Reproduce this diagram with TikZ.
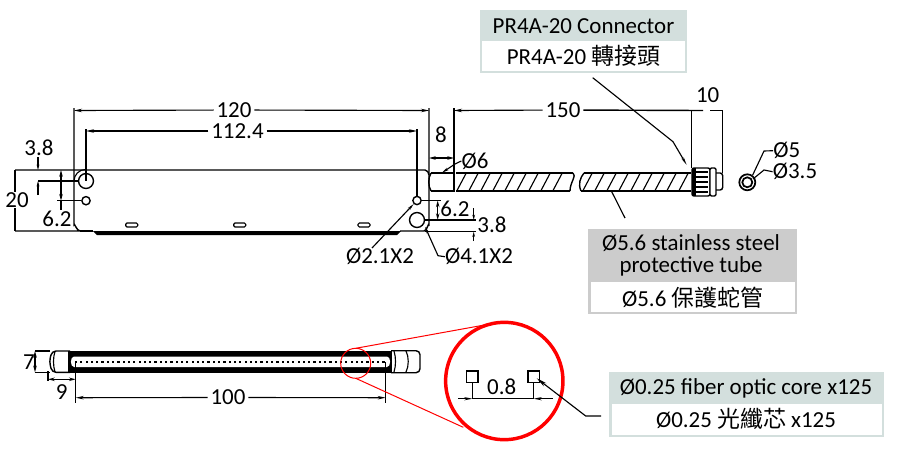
\documentclass[tikz,border=0pt]{standalone}
\usepackage{fontspec}
\setmainfont{Carlito}
\newfontfamily\cjk{Noto Sans CJK TC}
\usetikzlibrary{arrows.meta}
\tikzset{
	dimtip/.style={-{Stealth[length=6pt,width=2.6pt]}},
	dimtips/.style={{Stealth[length=5pt,width=2.6pt]}-{Stealth[length=5pt,width=2.6pt]}},
	outline/.style={line width=1.05pt},
	thinline/.style={line width=0.85pt},
	lab/.style={font=\fontsize{17.2}{17.2}\selectfont, inner sep=0pt},
	dimlab/.style={lab, fill=white, inner xsep=2pt},
	boxtext/.style={font=\fontsize{17.2}{17.2}\selectfont, inner sep=0pt},
	redline/.style={red, line width=0.75pt}
}
\definecolor{headgreen}{HTML}{D3DFDD}
\definecolor{headgrey}{HTML}{CCCCCC}
\begin{document}
\begin{tikzpicture}[x=0.75pt, y=-0.75pt]
	\useasboundingbox (0,0) rectangle (906,471);
	\draw[outline] (15,170) -- (425,170) to[out=0, in=100] (429,175);
	\draw[outline] (15,231) -- (80,231) to[out=180, in=90] (74,225) -- (74,108);
	\draw[outline] (429,108) -- (429,225) to[out=100, in=0] (424,231) -- (400,231);
	\draw[thinline] (74,181) arc (180:270:11.5);
	\fill (93,231) -- (401,231) -- (397,235) -- (97,235) -- cycle;
	\draw[outline] (80,231) -- (93,231);
	\node[circle, draw, outline, minimum size=11.2pt, inner sep=0pt] (1) at (86,181) {};
	\node[circle, draw, outline, minimum size=6.2pt, inner sep=0pt] (2) at (86,200.7) {};
	\node[circle, draw, outline, minimum size=6.2pt, inner sep=0pt] (3) at (417,200.5) {};
	\node[circle, draw, outline, minimum size=11.2pt, inner sep=0pt] (4) at (417,220) {};
	\foreach \x in {131.7,239.7,364} {
		\draw[thinline, rounded corners=1pt] (\x-6,223) rectangle (\x+6,227);
	}
	\node[dimlab] (5) at (234,110) {120};
	\node[dimlab] (6) at (237.5,131) {112.4};
	\draw[thinline, dimtip] (5) -- (74,110.5);
	\draw[thinline, dimtip] (5) -- (429,110.5);
	\draw[thinline, dimtip] (6) -- (86,131);
	\draw[thinline, dimtip] (6) -- (417,131);
	\draw[outline] (86,129) -- (1.center);
	\draw[outline] (417,129) -- (3);
	\node[lab] (7) at (39,148) {3.8};
	\draw[thinline] (15,170) -- (15,231);
	\node[lab, fill=white] (8) at (17,200) {20};
	\node[lab] (9) at (57,219) {6.2};
	\draw[thinline] (38,181) -- (1);
	\draw[thinline] (57,200.7) -- (2);
	\draw[thinline, -{Stealth[length=4pt,width=2pt]}] (38,157) -- (38,170);
	\draw[thinline, -{Stealth[length=4pt,width=2pt]}] (38,195) -- (38,181);
	\draw[thinline, dimtips] (61,170) -- (61,200.7);
	\draw[thinline] (61,200.7) -- (61,210);
	\node[lab] (10) at (441,135) {8};
	\draw[thinline, dimtips] (429,158) -- (454,158);
	\draw[outline] (454,108) -- (454,173);
	\node[lab] (11) at (475,161) {Ø6};
	\coordinate (12) at (455,164);
	\draw[thinline, -{Stealth[length=5pt,width=2pt]}] (11.west) -- (12) -- (442,172.7);
	\draw[outline] (431,173) -- (454,173) -- (454,191) -- (431,191);
	\draw[outline] (431,173) .. controls (428,178) and (428,186) .. (431,191);
	\draw[outline] (456,173) -- (573,173);
	\draw[outline] (456,191) -- (570,191);
	\draw[outline] (573,173) .. controls (577,176) and (570,182) .. (570,191);
	\draw[outline] (584,173) -- (691,173);
	\draw[outline] (581,191) -- (691,191);
	\draw[outline] (584,173) .. controls (580,178) and (578,184) .. (581,191);
	\foreach \x in {457,469,...,563} {
		\draw[thinline] (\x,190.5) -- (\x+9,173.5);
	}
	\foreach \x in {583,595,...,682} {
		\draw[thinline] (\x,190.5) -- (\x+9,173.5);
	}
	\node[lab] (13) at (455,209) {6.2};
	\node[lab] (14) at (492,225) {3.8};
	\draw[thinline] (3) -- (441,200.5);
	\draw[thinline, dimtips] (437.7,200.5) -- (437.7,220);
	\draw[thinline] (425,220) -- (476,220);
	\draw[thinline] (425,231.7) -- (476,231.7);
	\draw[thinline, -{Stealth[length=4pt,width=2pt]}] (473.7,208) -- (473.7,220);
	\draw[thinline, -{Stealth[length=4pt,width=2pt]}] (473.7,241) -- (473.7,231.7);
	\node[lab] (15) at (380,256.7) {Ø2.1X2};
	\node[lab] (16) at (479,256.7) {Ø4.1X2};
	\draw[thinline, {Stealth[length=5pt,width=2pt]}-] (3) -- (372,248);
	\draw[thinline, {Stealth[length=5pt,width=2pt]}-] (425,226.7) -- (438,255.7) -- (16.west);
	\node[dimlab] (17) at (563,110) {150};
	\draw[thinline, dimtip] (17) -- (454,110.5);
	\draw[outline] (17) -- (703,110.5);
	\draw[outline] (710,110.5) -- (722.7,110.5) -- (722.7,173);
	\draw[outline] (691.7,110.5) -- (691.7,168);
	\node[lab] (18) at (707.7,95) {10};
	\filldraw[fill=white, outline, rounded corners=1.5pt] (692,168) rectangle (710,196);
	\fill (692,168) rectangle (696,196);
	\foreach \y in {172,177,182,187,192} {
		\draw[line width=1.2pt] (696,\y) -- (708,\y);
	}
	\filldraw[fill=white, outline, rounded corners=1pt] (710,168) rectangle (716,196);
	\draw[outline, rounded corners=2pt] (716,173) -- (722.7,173) -- (722.7,190) -- (716,190);
	\node[circle, draw, line width=1.3pt, minimum size=12pt, inner sep=0pt] (19) at (747.3,182.3) {};
	\node[circle, draw, line width=1.3pt, minimum size=7.5pt, inner sep=0pt] (20) at (747.3,182.3) {};
	\node[lab] (21) at (786.7,150.7) {Ø5};
	\node[lab] (22) at (795,171.7) {Ø3.5};
	\draw[thinline] (21.west) -- (764,151) -- (752.7,175);
	\draw[thinline] (22.west) -- (764,170) -- (753,179);
	% header boxes
	\fill[headgreen] (480,10) rectangle (687.3,73);
	\fill[white] (482,41) rectangle (685,71);
	\node[boxtext] (23) at (583.5,26.5) {PR4A-20 Connector};
	\node[boxtext] (24) at (583.5,56) {PR4A-20 {\cjk 轉接頭}};
	\coordinate (25) at (673,141.7);
	\draw[thinline, -{Stealth[length=6pt,width=2pt]}] (592.7,77.7) -- (25) -- (686.7,165);
	\fill[headgrey] (588,229) rectangle (796.7,314);
	\fill[white] (590.5,282) rectangle (795,312);
	\node[boxtext, align=center] (26) at (691,255.5) {Ø5.6 stainless steel\\[-0.6pt]protective tube};
	\node[boxtext] (28) at (692.7,297.7) {Ø5.6 {\cjk 保護蛇管}};
	\draw[thinline] (611.7,191.7) -- (625,218);
	\fill[headgreen] (609.3,371.7) rectangle (884,436.7);
	\fill[white] (611.5,404) rectangle (882,434.5);
	\node[boxtext] (29) at (746,388.3) {Ø0.25 fiber optic core x125};
	\node[boxtext] (30) at (746,419.3) {Ø0.25 {\cjk 光纖芯} x125};
	% bottom view
	\fill (68,350.5) rectangle (392,373);
	\fill[white] (74,356.5) -- (387,356.5) to[out=0, in=0] (387,367) -- (74,367) to[out=180, in=180] (74,356.5);
	\foreach \x in {76,81.3,...,386} {
		\fill (\x-1.1,360.9) rectangle (\x+1.1,363.1);
	}
	\draw[outline, rounded corners=3pt] (70,351) -- (52,351) -- (49.3,361.5) -- (52,372.3) -- (70,372.3);
	\draw[thinline] (55,351.5) .. controls (53,357) and (53,366) .. (55,372);
	\draw[outline, rounded corners=3pt] (391,350.7) -- (420,350.7) -- (420,372.7) -- (391,372.7);
	\draw[thinline] (394,351) .. controls (396,357) and (396,366) .. (394,372);
	\draw[thinline] (406,351) .. controls (409,357) and (409,366) .. (406,372);
	\node[lab] (31) at (29,361.7) {7};
	\draw[thinline, dimtips] (35,351) -- (35,372.3);
	\draw[thinline] (35,351) -- (50,351);
	\draw[thinline] (35,372.3) -- (50,372.3);
	\node[lab] (32) at (61.7,391.7) {9};
	\draw[thinline, dimtips] (48,379.3) -- (75.7,379.3);
	\draw[thinline] (48,371) -- (48,381);
	\draw[outline] (75.7,362) -- (75.7,403);
	\draw[outline] (385.7,362) -- (385.7,403);
	\node[dimlab] (33) at (228,397.5) {100};
	\draw[thinline, dimtip] (33) -- (75.7,397.7);
	\draw[thinline, dimtip] (33) -- (385.7,397.7);
	% zoom
	\node[circle, draw=red, line width=0.75pt, minimum size=22.5pt, inner sep=0pt] (34) at (355.7,363.3) {};
	\node[circle, draw=red, line width=2.6pt, minimum size=88pt, inner sep=0pt] (35) at (504.3,381) {};
	\draw[redline] (355.7,348.3) -- (490,324);
	\draw[redline] (355.7,378.3) -- (463.3,427.3);
	\node[rectangle, draw, thinline, minimum size=8.6pt, inner sep=0pt] (36) at (472.3,376.7) {};
	\node[rectangle, draw, thinline, minimum size=8.6pt, inner sep=0pt] (37) at (533.7,376.7) {};
	\node[lab] (38) at (501.7,387) {0.8};
	\draw[thinline] (36.south) -- (472.3,399);
	\draw[thinline] (37.south) -- (533.7,399);
	\draw[thinline] (472.3,398.7) -- (533.7,398.7);
	\draw[thinline, -{Stealth[length=6pt,width=2.4pt]}] (458,398.7) -- (472.3,398.7);
	\draw[thinline, -{Stealth[length=6pt,width=2.4pt]}] (552.7,398.7) -- (533.7,398.7);
	\coordinate (39) at (585.7,416);
	\draw[thinline, -{Stealth[length=8pt,width=3pt]}] (601,416) -- (39) -- (536.7,378.3);
\end{tikzpicture}
\end{document}
